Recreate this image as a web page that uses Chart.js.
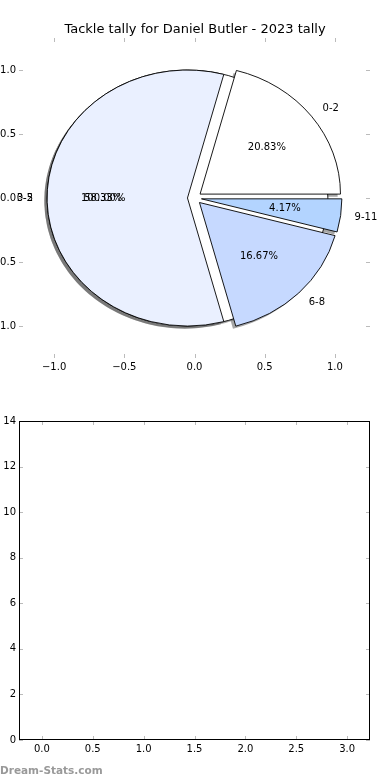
<!DOCTYPE html>
<html>
<head>
<meta charset="utf-8">
<script src="https://cdn.jsdelivr.net/npm/chart.js@4.4.0/dist/chart.umd.min.js"></script>
<style>
    body { margin: 0; background: #fff; width: 390px; height: 780px; position: relative; overflow: hidden; }
    #pie-wrap { position: absolute; left: 0; top: 0; width: 390px; height: 380px; }
    #bar-wrap { position: absolute; left: 0; top: 380px; width: 390px; height: 400px; }
    #mark { position: absolute; left: 0; top: 764px; font: bold 10.5px "DejaVu Sans"; color: #999; }
</style>
</head>
<body>
<div id="pie-wrap"><canvas id="tackle-pie"></canvas></div>
<div id="bar-wrap"><canvas id="tackle-bars"></canvas></div>
<div id="mark">Dream-Stats.com</div>
<script>
// Tackle tally - 2023
var sliceLabels = ['0-2', '3-5', '6-8', '9-11'];
var sliceValues = [5, 14, 4, 1];
var sliceColors = ['#ffffff', '#eaf0ff', '#c6d9ff', '#b3d4ff'];
var sliceExplode = [0.05, 0.05, 0.05, 0.05];

// a one-slice pie left underneath the main one
var underLabels = ['0-2'];
var underValues = [1];
var underColors = ['#ffffff'];
var underExplode = [0.05];

var pieTicks = [-1.0, -0.5, 0.0, 0.5, 1.0];
var barXTicks = [0.0, 0.5, 1.0, 1.5, 2.0, 2.5, 3.0];
var barYTicks = [0, 2, 4, 6, 8, 10, 12, 14];

Chart.defaults.font.family = '"DejaVu Sans"';
Chart.defaults.font.size = 10;
Chart.defaults.color = '#000';

function oneDecimal(v) {
    return (v < 0 ? '\u2212' : '') + Math.abs(v).toFixed(1);
}

function makeWedges(values, explode) {
    var total = values.reduce(function(a, b) { return a + b; }, 0);
    var t = 0;
    return values.map(function(v, i) {
        var t1 = t, t2 = t + 2 * Math.PI * v / total;
        t = t2;
        var mid = (t1 + t2) / 2;
        return {
            t1: t1, t2: t2, mid: mid, frac: v / total,
            full: v === total,
            cx: explode[i] * Math.cos(mid),
            cy: explode[i] * Math.sin(mid)
        };
    });
}

function wedgePath(ctx, xs, ys, w, dx, dy) {
    var cx = xs.getPixelForValue(w.cx + dx), cy = ys.getPixelForValue(w.cy + dy);
    var rx = xs.getPixelForValue(1) - xs.getPixelForValue(0);
    var ry = ys.getPixelForValue(0) - ys.getPixelForValue(1);
    ctx.beginPath();
    if (w.full) {
        ctx.ellipse(cx, cy, rx, ry, 0, 0, 2 * Math.PI);
    } else {
        ctx.moveTo(cx, cy);
        ctx.ellipse(cx, cy, rx, ry, 0, -w.t1, -w.t2, true);
        ctx.closePath();
    }
}

var pieDraw = {
    id: 'pieDraw',
    afterDatasetsDraw: function(chart) {
        var ctx = chart.ctx, xs = chart.scales.x, ys = chart.scales.y;
        var pies = [
            { w: makeWedges(underValues, underExplode), labels: underLabels, colors: underColors },
            { w: makeWedges(sliceValues, sliceExplode), labels: sliceLabels, colors: sliceColors }
        ];
        ctx.save();
        ctx.lineJoin = 'round';

        // shadows go under every wedge
        pies.forEach(function(p) {
            p.w.forEach(function(w) {
                wedgePath(ctx, xs, ys, w, -0.02, -0.02);
                ctx.fillStyle = 'rgba(77,77,77,0.5)';
                ctx.fill();
            });
        });

        pies.forEach(function(p) {
            p.w.forEach(function(w, i) {
                wedgePath(ctx, xs, ys, w, 0, 0);
                ctx.fillStyle = p.colors[i];
                ctx.fill();
                ctx.strokeStyle = '#000';
                ctx.lineWidth = 0.9;
                ctx.stroke();
            });
        });

        ctx.font = '10px "DejaVu Sans"';
        ctx.fillStyle = '#000';
        ctx.textBaseline = 'middle';
        pies.forEach(function(p) {
            p.w.forEach(function(w, i) {
                var c = Math.cos(w.mid), s = Math.sin(w.mid);
                var lx = w.cx + 1.1 * c, ly = w.cy + 1.1 * s;
                ctx.textAlign = lx > 0 ? 'left' : 'right';
                ctx.fillText(p.labels[i], xs.getPixelForValue(lx), ys.getPixelForValue(ly));
                ctx.textAlign = 'center';
                ctx.fillText((w.frac * 100).toFixed(2) + '%',
                    xs.getPixelForValue(w.cx + 0.6 * c), ys.getPixelForValue(w.cy + 0.6 * s));
            });
        });
        ctx.restore();
    }
};

var innerTicks = {
    id: 'innerTicks',
    afterDraw: function(chart, args, opts) {
        var ctx = chart.ctx, a = chart.chartArea, xs = chart.scales.x, ys = chart.scales.y;
        ctx.save();
        ctx.strokeStyle = opts.color;
        ctx.lineWidth = 1;
        ctx.beginPath();
        xs.ticks.forEach(function(t) {
            var px = Math.round(xs.getPixelForValue(t.value)) + 0.5;
            ctx.moveTo(px, a.bottom); ctx.lineTo(px, a.bottom - 4);
            ctx.moveTo(px, a.top); ctx.lineTo(px, a.top + 4);
        });
        ys.ticks.forEach(function(t) {
            var py = Math.round(ys.getPixelForValue(t.value)) + 0.5;
            ctx.moveTo(a.left, py); ctx.lineTo(a.left + 4, py);
            ctx.moveTo(a.right, py); ctx.lineTo(a.right - 4, py);
        });
        ctx.stroke();
        if (opts.frame) {
            ctx.strokeStyle = '#000';
            ctx.strokeRect(Math.round(a.left) + 0.5, Math.round(a.top) + 0.5,
                Math.round(a.right - a.left) - 1, Math.round(a.bottom - a.top) - 1);
        }
        ctx.restore();
    }
};

function axis(min, max, ticks, fmt, size, vertical) {
    return {
        type: 'linear',
        min: min,
        max: max,
        grid: { display: false, drawTicks: false },
        border: { display: false },
        ticks: { padding: 3, autoSkip: false, maxRotation: 0, callback: fmt },
        afterBuildTicks: function(scale) {
            scale.ticks = ticks.map(function(v) { return { value: v }; });
        },
        afterFit: function(scale) {
            if (vertical) { scale.width = size; } else { scale.height = size; }
        }
    };
}

// empty right-hand axis, only there to keep the plot box off the right edge
function spacer(min, max) {
    return {
        type: 'linear',
        position: 'right',
        min: min,
        max: max,
        grid: { display: false, drawTicks: false },
        border: { display: false },
        ticks: { display: false },
        afterFit: function(scale) { scale.width = 20; }
    };
}

var pieChart = new Chart(document.getElementById('tackle-pie'), {
    type: 'scatter',
    data: { datasets: [] },
    plugins: [pieDraw, innerTicks],
    options: {
        responsive: true,
        maintainAspectRatio: false,
        animation: false,
        events: [],
        layout: { padding: 0 },
        scales: {
            x: axis(-1.25, 1.25, pieTicks, oneDecimal, 22, false),
            y: axis(-1.25, 1.25, pieTicks, oneDecimal, 19, true),
            y2: spacer(-1.25, 1.25)
        },
        plugins: {
            legend: { display: false },
            tooltip: { enabled: false },
            title: {
                display: true,
                text: 'Tackle tally for Daniel Butler - 2023 tally',
                font: { size: 13, weight: 'normal' },
                color: '#000',
                padding: { top: 22, bottom: 0.4 }
            },
            innerTicks: { color: '#bbb', frame: false }
        }
    }
});

var barChart = new Chart(document.getElementById('tackle-bars'), {
    type: 'scatter',
    data: { datasets: [] },
    plugins: [innerTicks],
    options: {
        responsive: true,
        maintainAspectRatio: false,
        animation: false,
        events: [],
        layout: { padding: { left: 0, right: 0, top: 41, bottom: 0 } },
        scales: {
            x: axis(-0.225, 3.225, barXTicks, oneDecimal, 40, false),
            y: axis(0, 14, barYTicks, function(v) { return String(v); }, 19, true),
            y2: spacer(0, 14)
        },
        plugins: {
            legend: { display: false },
            tooltip: { enabled: false },
            innerTicks: { color: '#bbb', frame: true }
        }
    }
});
</script>
</body>
</html>
